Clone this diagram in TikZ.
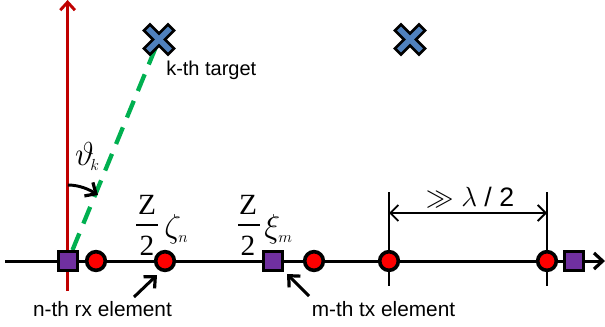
\documentclass[tikz,border=0pt]{standalone}
\usepackage{fontspec}
\setmainfont{Liberation Sans}
\newfontfamily\serifrm{Liberation Serif}
\usetikzlibrary{arrows.meta,backgrounds}
\definecolor{elemred}{RGB}{255,0,0}
\definecolor{txpurple}{RGB}{112,48,160}
\definecolor{tgtblue}{RGB}{79,129,189}
\definecolor{axisred}{RGB}{192,0,0}
\definecolor{raygreen}{RGB}{0,176,80}
\tikzset{
  x=0.75pt,y=-0.75pt,
  rxel/.style={circle,draw=black,fill=elemred,line width=2.7pt,inner sep=0pt,minimum size=14pt},
  txel/.style={rectangle,draw=black,fill=txpurple,line width=2.2pt,inner sep=0pt,minimum size=14.2pt},
  tgt/.style={draw=black,fill=tgtblue,line width=2pt,line join=miter},
  lab/.style={font=\fontsize{15}{18}\selectfont,inner sep=0pt},
  elab/.style={font=\fontsize{15.6}{18}\selectfont,inner sep=0pt},
  mth/.style={font=\fontsize{22}{26}\selectfont,inner sep=0pt},
  grk/.style={font=\fontsize{24}{28}\selectfont,inner sep=0pt,anchor=west},
  conn/.style={draw=black,line width=2.25pt},
  barb/.style={-{Straight Barb[length=6.5pt,width=12pt,line width=2.4pt]}},
  thin barb/.style={{Straight Barb[length=6pt,width=12pt,line width=1.4pt]}-{Straight Barb[length=6pt,width=12pt,line width=1.4pt]}}
}
\begin{document}
\begin{tikzpicture}
\useasboundingbox (0,0) rectangle (605,326);
% anchor points
\coordinate (axL) at (5,261);
\coordinate (axR) at (605,261);
\coordinate (upB) at (67.6,291);
\coordinate (upT) at (67.6,0);
\coordinate (t1top) at (389,192);
\coordinate (t1bot) at (389,286);
\coordinate (t2top) at (547,192);
\coordinate (t2bot) at (547,286);
\coordinate (dimL) at (389,213);
\coordinate (dimR) at (547,213);
\coordinate (arcS) at (68,185);
\coordinate (arcE) at (98,195);
\coordinate (narS) at (134,297);
\coordinate (narE) at (157,275);
\coordinate (marS) at (309,296);
\coordinate (marE) at (287,274);
% elements
\node[txel] (tx1) at (68,261) {};
\node[rxel] (rx1) at (96,261) {};
\node[rxel] (rx2) at (165,261) {};
\node[txel] (tx2) at (273,261) {};
\node[rxel] (rx3) at (314,261) {};
\node[rxel] (rx4) at (389,261) {};
\node[rxel] (rx5) at (547,261) {};
\node[txel] (tx3) at (574,261) {};
% targets
\coordinate (tg1) at (159,39.5);
\coordinate (tg2) at (410,39.5);
\foreach \c in {tg1,tg2}{
  \draw[tgt,shift={(\c)}] (-15,-9)--(-9,-15)--(0,-6)--(9,-15)--(15,-9)--(6,0)--(15,9)--(9,15)--(0,6)--(-9,15)--(-15,9)--(-6,0)--cycle;
}
\begin{scope}[on background layer]
  \draw[draw=axisred,line width=2.25pt,-{Straight Barb[length=6pt,width=11pt,line width=2.2pt]}] (upB) -- (upT);
  \draw[draw=raygreen,line width=3.2pt,dash pattern=on 13.5pt off 8pt] (tx1) -- (tg1);
  \draw[conn,barb] (axL) -- (axR);
  \draw[draw=black,line width=1.6pt] (t1top) -- (t1bot);
  \draw[draw=black,line width=1.6pt] (t2top) -- (t2bot);
\end{scope}
\draw[draw=black,line width=1.4pt,thin barb] (dimL) -- (dimR);
\draw[conn,barb,line width=2.2pt] (arcS) .. controls (80,185) and (90,190) .. (arcE);
\draw[conn,barb] (narS) -- (narE);
\draw[conn,barb] (marS) -- (marE);
% labels
\node[lab,anchor=west] (ktarget) at (166,70) {k-th target};
\node[elab] (nlab) at (102.5,309) {n-th rx element};
\node[elab] (mlab) at (383.5,309) {m-th tx element};
\node[inner sep=0pt,font=\fontsize{23}{28}\selectfont] (theta) at (87.5,156) {$\vartheta_{\!\scriptscriptstyle k}$};
\node[mth] (z1) at (147,205) {\serifrm Z};
\node[mth] (d1) at (147,246) {\serifrm 2};
\draw[draw=black,line width=1pt] (136,225) -- (158,225);
\node[grk] (zeta) at (164,229) {$\zeta_{\scriptscriptstyle n}$};
\node[mth] (z2) at (248,205) {\serifrm Z};
\node[mth] (d2) at (248,246) {\serifrm 2};
\draw[draw=black,line width=1pt] (238,225) -- (260,225);
\node[grk] (xi) at (264,229) {$\xi_{\scriptscriptstyle m}$};
\node[inner sep=0pt,font=\fontsize{20}{24}\selectfont] (gg) at (470,197) {$\gg\lambda$ / 2};
\end{tikzpicture}
\end{document}
